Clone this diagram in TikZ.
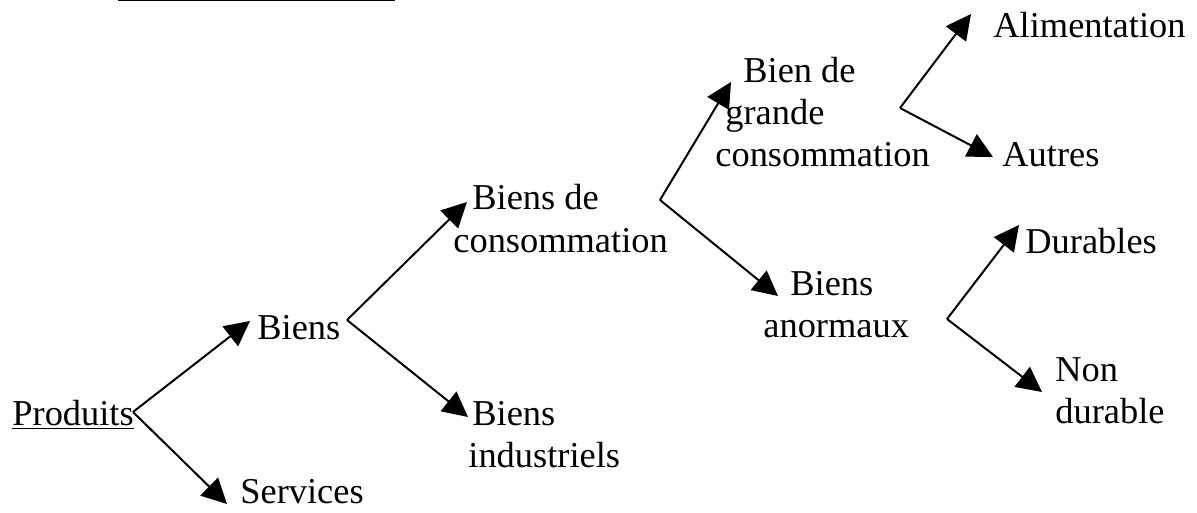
\documentclass[tikz,border=0pt]{standalone}
\usepackage{fontspec}
\setmainfont{Liberation Serif}
\usetikzlibrary{arrows.meta}
\begin{document}
\begin{tikzpicture}[x=0.5pt,y=-0.5pt,inner sep=0pt]
    \tikzstyle{word}=[anchor=base west,align=left,font=\fontsize{18.2}{21}\selectfont]
    \tikzstyle{arr}=[-{Triangle[length=12.5pt,width=12.5pt]},line width=1pt]
    \useasboundingbox (0,0) rectangle (1197,513);
    % heading cut off at the top
    \draw[line width=1pt] (118,0.5) -- (395,0.5);

    \node[word] (prod) at (12,425) {\underline{Produits}};
    \node[word] (biens) at (257,339) {Biens};
    \node[word] (serv) at (240,503) {Services};
    \node[word] (bc) at (453,252) {\hspace*{9.5pt}Biens de\\consommation};
    \node[word] (bi) at (468,467) {\hspace*{2pt}Biens\\industriels};
    \node[word] (bg) at (715,167) {\hspace*{14pt}Bien de\\\hspace*{5pt}grande\\consommation};
    \node[word] (ba) at (763,337) {\hspace*{13.5pt}Biens\\anormaux};
    \node[word] (alim) at (993,38) {Alimentation};
    \node[word] (autres) at (1002,167) {Autres};
    \node[word] (dur) at (1025,253) {Durables};
    \node[word] (nd) at (1055,423) {Non\\durable};

    % branch points
    \coordinate (vp) at (133,412);
    \coordinate (vb) at (347,320);
    \coordinate (vc) at (660,200);
    \coordinate (vg) at (900,108);
    \coordinate (va) at (947,319);

    \foreach \v/\n/\dx/\dy in {vp/biens/-7/-18, vp/serv/-13/1, vb/bc/14/-50, vb/bi/0/-50,
        vc/bg/16/-85, vc/ba/15/-41, vg/alim/-22/-24, vg/autres/-9/-10, va/dur/-6/-28, va/nd/-13/-31} {
        \draw[arr] (\v) -- ([shift={(\dx,\dy)}]\n.base west);
    };
\end{tikzpicture}
\end{document}
